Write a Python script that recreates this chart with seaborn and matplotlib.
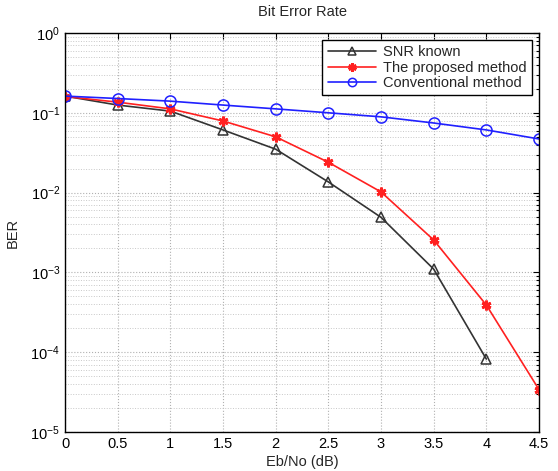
import numpy as np
import pandas as pd
import matplotlib
matplotlib.use("Agg")
import matplotlib.pyplot as plt
import seaborn as sns
from matplotlib.ticker import LogLocator, NullFormatter

ebno = [0, 0.5, 1, 1.5, 2, 2.5, 3, 3.5, 4, 4.5]
ber_known = [0.162, 0.125, 0.105, 0.061, 0.035, 0.0136, 0.0049, 0.0011, 8.2e-5]
ber_proposed = [0.160, 0.136, 0.112, 0.079, 0.050, 0.024, 0.0102, 0.00255, 0.00039, 3.4e-5]
ber_conventional = [0.162, 0.151, 0.140, 0.125, 0.112, 0.100, 0.089, 0.0745, 0.061, 0.047]
series_names = ["SNR known", "The proposed method", "Conventional method"]

sns.set_theme(style="white")
plt.rcParams["font.family"] = ["Liberation Sans", "DejaVu Sans"]

frames = []
for name, vals in zip(series_names, [ber_known, ber_proposed, ber_conventional]):
    frames.append(pd.DataFrame({"Eb/No": ebno[:len(vals)], "BER": vals, "series": name}))
df = pd.concat(frames, ignore_index=True)

fig = plt.figure(figsize=(5.58, 4.71), dpi=100)
ax = fig.add_axes([65 / 558, 1 - 432 / 471, (539 - 65) / 558, (432 - 33) / 471])

palette = {"SNR known": "#333333", "The proposed method": "#ff2020", "Conventional method": "#2020ff"}
# triangle, asterisk, circle
markers = {"SNR known": "^", "The proposed method": (6, 2, 0), "Conventional method": "o"}
msizes = {"SNR known": 7, "The proposed method": 7, "Conventional method": 8}
medge = {"SNR known": 1.1, "The proposed method": 2.0, "Conventional method": 1.1}

for name in series_names:
    sub = df[df["series"] == name]
    sns.lineplot(data=sub, x="Eb/No", y="BER", ax=ax, color=palette[name],
                 marker=markers[name], markersize=msizes[name],
                 markerfacecolor="none", markeredgecolor=palette[name],
                 markeredgewidth=medge[name], linewidth=1.2, label=name)

ax.set_yscale("log")
ax.set_xlim(0, 4.5)
ax.set_ylim(1e-5, 1)
ax.set_xticks(ebno)
ax.set_xticklabels(["0", "0.5", "1", "1.5", "2", "2.5", "3", "3.5", "4", "4.5"])
ax.yaxis.set_major_locator(LogLocator(base=10, numticks=10))
ax.yaxis.set_minor_locator(LogLocator(base=10, subs=np.arange(2, 10), numticks=100))
ax.yaxis.set_minor_formatter(NullFormatter())

ax.grid(True, which="major", color="#b0b0b0", linestyle=":", linewidth=0.8)
ax.grid(True, which="minor", axis="y", color="#c8c8c8", linestyle=":", linewidth=0.7)
ax.tick_params(which="both", direction="in", top=True, right=True, labelsize=10.5,
               colors="black", length=4, width=0.8)
ax.tick_params(which="minor", length=2)
for s in ax.spines.values():
    s.set_color("black")
    s.set_linewidth(1.0)

ax.set_xlabel("Eb/No (dB)", fontsize=10.5, labelpad=3)
ax.set_ylabel("BER", fontsize=10.5, labelpad=8)
ax.set_title("Bit Error Rate", fontsize=10.5, pad=12)

leg = ax.legend(loc="upper right", fontsize=10.5, frameon=True, fancybox=False,
                edgecolor="black", framealpha=1, borderaxespad=0.5,
                handlelength=3.3, handletextpad=0.5, labelspacing=0.1, borderpad=0.35)
leg.get_frame().set_linewidth(1.0)
for h in leg.legend_handles:
    h.set_markersize(6)

fig.savefig("out.png", dpi=100)
